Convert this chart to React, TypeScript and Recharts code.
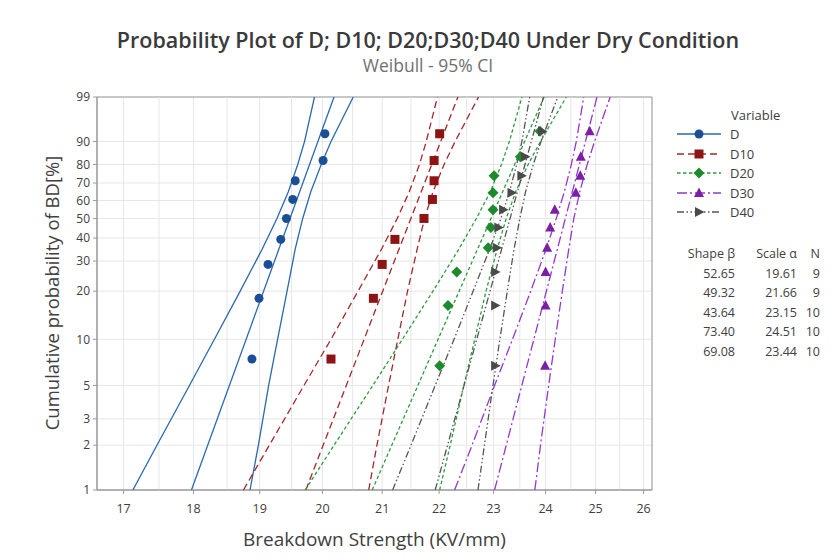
import React from "react";
import {
  ScatterChart,
  Scatter,
  XAxis,
  YAxis,
  CartesianGrid,
  ReferenceLine,
  ReferenceArea,
} from "recharts";

// ---------- axis / tick data ----------
const xTicks = [17, 18, 19, 20, 21, 22, 23, 24, 25, 26];
const xHalfGrid = [17.5, 18.5, 19.5, 20.5, 21.5, 22.5, 23.5, 24.5, 25.5];
const probTicks = [1, 2, 3, 5, 10, 20, 30, 40, 50, 60, 70, 80, 90, 99];
const xDomain = [16.635, 26.18];
const probDomain = [1, 99];

// ---------- table data ----------
const seriesNames = ["D", "D10", "D20", "D30", "D40"];
const shapeBeta = ["52.65", "49.32", "43.64", "73.40", "69.08"];
const scaleAlpha = ["19.61", "21.66", "23.15", "24.51", "23.44"];
const sampleN = ["9", "9", "10", "10", "10"];

// ---------- plotting positions (cumulative %) ----------
const ranks9 = [7.45, 18.09, 28.72, 39.36, 50.0, 60.64, 71.28, 81.91, 92.55];
const ranks10 = [6.73, 16.35, 25.96, 35.58, 45.19, 54.81, 64.42, 74.04, 83.65, 93.27];
const ciProbs = [1, 2, 5, 10, 20, 35, 50, 65, 80, 90, 99];
const fitProbs = [1, 99];

// ---------- D ----------
const dValues = [18.88, 18.99, 19.13, 19.33, 19.42, 19.52, 19.56, 20.01, 20.04];
const dFit = [17.97, 20.19];
const dLower = [17.13, 17.47, 17.94, 18.31, 18.7, 19.04, 19.27, 19.45, 19.6, 19.71, 19.87];
const dUpper = [18.85, 18.98, 19.14, 19.28, 19.43, 19.56, 19.68, 19.81, 19.98, 20.14, 20.51];

// ---------- D10 ----------
const d10Values = [20.14, 20.85, 21.0, 21.22, 21.73, 21.88, 21.91, 21.91, 22.01];
const d10Fit = [19.73, 22.34];
const d10Lower = [18.75, 19.15, 19.7, 20.14, 20.59, 20.99, 21.26, 21.47, 21.65, 21.77, 21.97];
const d10Upper = [20.77, 20.91, 21.11, 21.27, 21.44, 21.61, 21.74, 21.89, 22.09, 22.29, 22.72];

// ---------- D20 ----------
const d20Values = [22.01, 22.16, 22.32, 22.9, 22.95, 22.99, 22.99, 23.01, 23.51, 23.89];
const d20Fit = [20.83, 23.97];
const d20Lower = [19.72, 20.19, 20.84, 21.35, 21.89, 22.36, 22.68, 22.94, 23.15, 23.3, 23.54];
const d20Upper = [22.01, 22.2, 22.45, 22.65, 22.86, 23.07, 23.24, 23.42, 23.66, 23.9, 24.41];

// ---------- D30 ----------
const d30Values = [23.99, 24.0, 24.0, 24.03, 24.09, 24.18, 24.6, 24.69, 24.7, 24.88];
const d30Fit = [23.02, 25.03];
const d30Lower = [22.28, 22.6, 23.02, 23.36, 23.71, 24.01, 24.21, 24.37, 24.51, 24.61, 24.76];
const d30Upper = [23.79, 23.9, 24.06, 24.19, 24.33, 24.46, 24.56, 24.68, 24.83, 24.98, 25.3];

// ---------- D40 ----------
const d40Values = [23.03, 23.03, 23.03, 23.06, 23.09, 23.18, 23.34, 23.53, 23.6, 23.93];
const d40Fit = [21.93, 23.96];
const d40Lower = [21.18, 21.5, 21.93, 22.27, 22.62, 22.93, 23.14, 23.3, 23.44, 23.54, 23.69];
const d40Upper = [22.71, 22.83, 22.99, 23.12, 23.26, 23.39, 23.5, 23.61, 23.76, 23.91, 24.24];

// Weibull probability-axis transform
const wb = (p: number) => Math.log(-Math.log(1 - p / 100));
const pts = (xs: number[], ps: number[]) => xs.map((x, i) => ({ x, w: wb(ps[i]) }));

type Kind = "circle" | "square" | "diamond" | "triangle" | "rtriangle";

const styles = [
  { name: "D", marker: "#1B4F95", line: "#2A68B0", dash: undefined as string | undefined, kind: "circle" as Kind },
  { name: "D10", marker: "#8C1414", line: "#A3282A", dash: "7 4", kind: "square" as Kind },
  { name: "D20", marker: "#1E8A2E", line: "#2F9A40", dash: "3.5 2.5", kind: "diamond" as Kind },
  { name: "D30", marker: "#7A1FA6", line: "#9438CC", dash: "10 3 2 3", kind: "triangle" as Kind },
  { name: "D40", marker: "#4A4A4A", line: "#555555", dash: "7 2.5 1.5 2.5 1.5 2.5", kind: "rtriangle" as Kind },
];

const groups = [
  { values: dValues, ranks: ranks9, fit: dFit, lower: dLower, upper: dUpper },
  { values: d10Values, ranks: ranks9, fit: d10Fit, lower: d10Lower, upper: d10Upper },
  { values: d20Values, ranks: ranks10, fit: d20Fit, lower: d20Lower, upper: d20Upper },
  { values: d30Values, ranks: ranks10, fit: d30Fit, lower: d30Lower, upper: d30Upper },
  { values: d40Values, ranks: ranks10, fit: d40Fit, lower: d40Lower, upper: d40Upper },
];

function Marker({ kind, cx, cy, color }: { kind: Kind; cx: number; cy: number; color: string }) {
  switch (kind) {
    case "circle":
      return <circle cx={cx} cy={cy} r={4.5} fill={color} />;
    case "square":
      return <rect x={cx - 4.5} y={cy - 4.5} width={9} height={9} fill={color} />;
    case "diamond":
      return <path d={`M${cx},${cy - 5.5}L${cx + 5.5},${cy}L${cx},${cy + 5.5}L${cx - 5.5},${cy}Z`} fill={color} />;
    case "triangle":
      return <path d={`M${cx},${cy - 5.5}L${cx + 5},${cy + 4}L${cx - 5},${cy + 4}Z`} fill={color} />;
    default:
      return <path d={`M${cx + 5.5},${cy}L${cx - 4},${cy - 5}L${cx - 4},${cy + 5}Z`} fill={color} />;
  }
}

const fmtProb = (v: number) => {
  let best = probTicks[0];
  let bd = Infinity;
  for (const p of probTicks) {
    const d = Math.abs(wb(p) - v);
    if (d < bd) {
      bd = d;
      best = p;
    }
  }
  return String(best);
};

const FONT = '"Segoe UI", "Open Sans", "Noto Sans", sans-serif';

export default function App() {
  const lineDefs: { key: string; data: { x: number; w: number }[]; color: string; dash?: string }[] = [];
  groups.forEach((g, i) => {
    const s = styles[i];
    lineDefs.push({ key: s.name + "-lo", data: pts(g.lower, ciProbs), color: s.line, dash: s.dash });
    lineDefs.push({ key: s.name + "-fit", data: pts(g.fit, fitProbs), color: s.line, dash: s.dash });
    lineDefs.push({ key: s.name + "-hi", data: pts(g.upper, ciProbs), color: s.line, dash: s.dash });
  });

  return (
    <div
      style={{
        position: "absolute",
        left: 0,
        top: 0,
        width: 837,
        height: 560,
        background: "#fff",
        fontFamily: FONT,
        overflow: "hidden",
      }}
    >
      <div
        style={{
          position: "absolute",
          left: 0,
          width: 856,
          top: 25,
          textAlign: "center",
          fontSize: 21.5,
          color: "#3a3a3a",
          fontWeight: 600,
          whiteSpace: "nowrap",
        }}
      >
        Probability Plot of D; D10; D20;D30;D40 Under Dry Condition
      </div>
      <div
        style={{
          position: "absolute",
          left: 0,
          width: 856,
          top: 53,
          textAlign: "center",
          fontSize: 17.5,
          color: "#707070",
        }}
      >
        Weibull - 95% CI
      </div>

      <div style={{ position: "absolute", left: 0, top: 0 }}>
        <ScatterChart width={837} height={560} margin={{ top: 97, right: 185, bottom: 40, left: 37 }}>
          <CartesianGrid stroke="#e6e6e6" strokeWidth={1} />
          {xHalfGrid.map((v) => (
            <ReferenceLine key={"g" + v} x={v} stroke="#e6e6e6" strokeWidth={1} />
          ))}
          <XAxis
            type="number"
            dataKey="x"
            scale="log"
            domain={xDomain}
            ticks={xTicks}
            interval={0}
            allowDataOverflow
            height={30}
            tickSize={4}
            tickMargin={10}
            axisLine={{ stroke: "#9a9a9a" }}
            tickLine={{ stroke: "#9a9a9a" }}
            tick={{ fill: "#404040", fontSize: 12.5, fontFamily: FONT }}
          />
          <YAxis
            type="number"
            dataKey="w"
            domain={[wb(probDomain[0]), wb(probDomain[1])]}
            ticks={probTicks.map(wb)}
            interval={0}
            allowDataOverflow
            width={60}
            tickSize={4}
            tickMargin={3}
            tickFormatter={fmtProb}
            axisLine={{ stroke: "#9a9a9a" }}
            tickLine={{ stroke: "#9a9a9a" }}
            tick={{ fill: "#404040", fontSize: 12, fontFamily: FONT }}
          />
          <ReferenceArea
            x1={xDomain[0]}
            x2={xDomain[1]}
            y1={wb(probDomain[0])}
            y2={wb(probDomain[1])}
            fill="none"
            fillOpacity={0}
            stroke="#9a9a9a"
            strokeWidth={1}
            ifOverflow="visible"
          />
          {lineDefs.map((l) => (
            <Scatter
              key={l.key}
              data={l.data}
              line={{ stroke: l.color, strokeWidth: 1.3, strokeDasharray: l.dash }}
              lineType="joint"
              shape={() => <g />}
              isAnimationActive={false}
            />
          ))}
          {groups.map((g, i) => {
            const s = styles[i];
            return (
              <Scatter
                key={s.name + "-pts"}
                data={pts(g.values, g.ranks)}
                shape={(p: any) => <Marker kind={s.kind} cx={p.cx} cy={p.cy} color={s.marker} />}
                isAnimationActive={false}
              />
            );
          })}
        </ScatterChart>
      </div>

      {/* axis titles */}
      <div
        style={{
          position: "absolute",
          left: 97,
          width: 555,
          top: 526,
          textAlign: "center",
          fontSize: 19,
          color: "#404040",
        }}
      >
        Breakdown Strength (KV/mm)
      </div>
      <div
        style={{
          position: "absolute",
          left: 52 - 200,
          top: 293 - 13,
          width: 400,
          height: 26,
          lineHeight: "26px",
          textAlign: "center",
          fontSize: 18.5,
          color: "#404040",
          transform: "rotate(-90deg)",
          whiteSpace: "nowrap",
        }}
      >
        Cumulative probability of BD[%]
      </div>

      {/* legend */}
      <div style={{ position: "absolute", left: 731, top: 106, fontSize: 13, color: "#404040" }}>Variable</div>
      {styles.map((s, i) => (
        <div key={s.name} style={{ position: "absolute", left: 676, top: 126 + i * 19.5, height: 16, display: "flex", alignItems: "center" }}>
          <svg width={46} height={16}>
            <line x1={1} y1={8} x2={45} y2={8} stroke={s.line} strokeWidth={1.5} strokeDasharray={s.dash} />
            <Marker kind={s.kind} cx={23} cy={8} color={s.marker} />
          </svg>
          <span style={{ marginLeft: 8, fontSize: 13, color: "#404040" }}>{s.name}</span>
        </div>
      ))}

      {/* statistics table */}
      <div style={{ position: "absolute", left: 670, top: 244, fontSize: 12.5, color: "#404040" }}>
        <div style={{ display: "flex", height: 19.5, alignItems: "center" }}>
          <div style={{ width: 65, textAlign: "right" }}>Shape β</div>
          <div style={{ width: 62, textAlign: "right" }}>Scale α</div>
          <div style={{ width: 23, textAlign: "right" }}>N</div>
        </div>
        {seriesNames.map((n, i) => (
          <div key={n} style={{ display: "flex", height: 19.5, alignItems: "center" }}>
            <div style={{ width: 65, textAlign: "right" }}>{shapeBeta[i]}</div>
            <div style={{ width: 62, textAlign: "right" }}>{scaleAlpha[i]}</div>
            <div style={{ width: 23, textAlign: "right" }}>{sampleN[i]}</div>
          </div>
        ))}
      </div>
    </div>
  );
}
